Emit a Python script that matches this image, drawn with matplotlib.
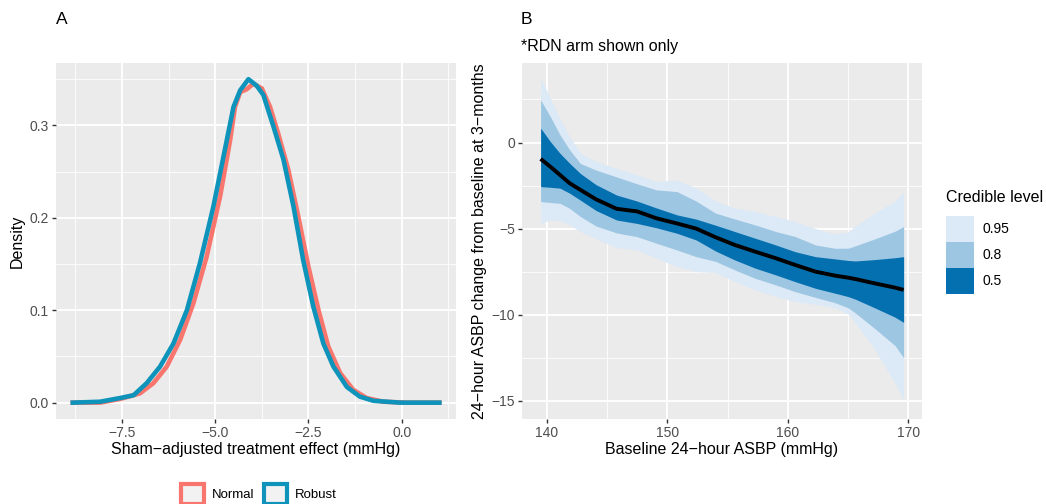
import matplotlib
matplotlib.use("Agg")
import matplotlib.pyplot as plt
from matplotlib.patches import Patch
import numpy as np

plt.rcParams['font.family'] = ['Liberation Sans', 'DejaVu Sans']

# ---------------- Panel A data (density curves) ----------------
robust_x = [-8.82, -8.09, -7.55, -7.19, -6.84, -6.48, -6.12, -5.76, -5.41, -5.05, -4.69, -4.51,
            -4.33, -4.11, -3.89, -3.71, -3.44, -3.17, -2.90, -2.64, -2.37, -2.10, -1.83, -1.47,
            -1.12, -0.76, -0.04, 1.01]
robust_y = [0.0, 0.001, 0.005, 0.008, 0.021, 0.039, 0.064, 0.100, 0.151, 0.212, 0.284, 0.320,
            0.338, 0.350, 0.343, 0.333, 0.299, 0.263, 0.212, 0.154, 0.104, 0.064, 0.039, 0.017,
            0.0065, 0.002, 0.0, 0.0]
normal_x = [-8.82, -8.09, -7.55, -7.02, -6.66, -6.30, -5.94, -5.59, -5.23, -4.87, -4.60, -4.47,
            -4.33, -4.16, -3.98, -3.75, -3.53, -3.31, -3.04, -2.77, -2.50, -2.23, -1.97, -1.65,
            -1.30, -0.94, -0.49, 0.13, 1.01]
normal_y = [0.0, 0.0, 0.004, 0.010, 0.021, 0.039, 0.068, 0.107, 0.158, 0.223, 0.284, 0.320,
            0.336, 0.339, 0.345, 0.340, 0.320, 0.291, 0.252, 0.201, 0.147, 0.100, 0.061, 0.032,
            0.014, 0.005, 0.001, 0.0, 0.0]
series_names = ["Normal", "Robust"]
series_colors = ["#F8766D", "#0E93BA"]

# ---------------- Panel B data (credible bands) ----------------
baseline = [139.5, 140.3, 141.1, 141.9, 142.8, 144.1, 145.8, 147.5, 149.1, 150.8, 152.4, 154.0,
            155.6, 157.3, 159.0, 160.6, 162.3, 163.9, 165.0, 165.6, 167.2, 168.9, 169.6]
median = [-0.95, -1.4, -1.88, -2.36, -2.75, -3.3, -3.85, -4.0, -4.4, -4.7, -5.0, -5.5,
          -5.95, -6.34, -6.72, -7.11, -7.5, -7.73, -7.85, -7.93, -8.18, -8.43, -8.56]
lo50 = [-2.56, -2.6, -2.65, -2.94, -3.35, -3.95, -4.5, -4.7, -4.95, -5.27, -5.66, -6.3,
        -6.82, -7.3, -7.69, -8.08, -8.47, -8.75, -8.95, -9.1, -9.6, -10.15, -10.45]
hi50 = [0.84, 0.06, -0.62, -1.2, -1.8, -2.45, -3.05, -3.4, -3.8, -4.2, -4.45, -4.8,
        -5.17, -5.56, -5.95, -6.34, -6.63, -6.76, -6.85, -6.88, -6.8, -6.69, -6.63]
lo80 = [-3.43, -3.48, -3.53, -3.82, -4.3, -4.85, -5.25, -5.47, -5.85, -6.24, -6.63, -6.9,
        -7.4, -7.89, -8.27, -8.66, -9.0, -9.3, -9.6, -9.9, -10.8, -11.8, -12.5]
hi80 = [2.48, 1.51, 0.45, -0.42, -1.22, -1.6, -2.0, -2.4, -2.75, -2.85, -3.4, -4.1,
        -4.44, -4.79, -5.17, -5.46, -5.95, -6.14, -6.14, -6.0, -5.6, -5.15, -4.88]
lo95 = [-4.69, -4.5, -4.53, -4.78, -5.17, -5.6, -6.1, -6.24, -6.72, -7.21, -7.5, -7.55,
        -8.08, -8.57, -8.95, -9.24, -9.4, -9.6, -9.95, -10.5, -12.0, -14.0, -14.96]
hi95 = [3.74, 2.58, 1.41, 0.35, -0.62, -1.1, -1.5, -1.88, -2.27, -2.17, -2.65, -3.4,
        -3.81, -4.01, -4.3, -4.59, -5.0, -5.3, -5.2, -4.85, -4.1, -3.4, -2.85]
level_labels = ["0.95", "0.8", "0.5"]
level_colors = ["#DCE9F6", "#9DC6E2", "#0570B0"]

W, H = 1046, 504
fig = plt.figure(figsize=(W / 100, H / 100), dpi=100)

def ax_rect(l, r, t, b):
    return [l / W, 1 - b / H, (r - l) / W, (b - t) / H]

def style(ax):
    ax.set_facecolor('#EBEBEB')
    for s in ax.spines.values():
        s.set_visible(False)
    ax.grid(True, which='major', color='white', lw=1.3)
    ax.grid(True, which='minor', color='white', lw=0.6)
    ax.set_axisbelow(True)
    ax.tick_params(which='major', length=3, width=1, color='#333333', labelsize=10,
                   labelcolor='#4D4D4D', pad=2)
    ax.tick_params(which='minor', length=0)

TITLE_FS = 11.5

# Panel A
axA = fig.add_axes(ax_rect(56, 456, 63, 419))
style(axA)
axA.plot(normal_x, normal_y, color=series_colors[0], lw=3.3, solid_joinstyle='round')
axA.plot(robust_x, robust_y, color=series_colors[1], lw=3.3, solid_joinstyle='round')
axA.set_xlim(-9.27, 1.457)
axA.set_ylim(-0.0177, 0.3675)
axA.set_xticks([-7.5, -5.0, -2.5, 0.0])
axA.set_xticklabels(["\u22127.5", "\u22125.0", "\u22122.5", "0.0"])
axA.set_xticks([-8.75, -6.25, -3.75, -1.25, 1.25], minor=True)
axA.set_yticks([0.0, 0.1, 0.2, 0.3])
axA.set_yticklabels(["0.0", "0.1", "0.2", "0.3"])
axA.set_yticks([0.05, 0.15, 0.25, 0.35], minor=True)
axA.set_xlabel("Sham\u2212adjusted treatment effect (mmHg)", fontsize=TITLE_FS)
axA.set_ylabel("Density", fontsize=TITLE_FS)
axA.xaxis.set_label_coords(0.5, -0.064)
axA.yaxis.set_label_coords(-0.0775, 0.5)
fig.text(56 / W, 1 - 20 / H, "A", fontsize=12.5, va='center', ha='left')

handlesA = [Patch(facecolor='#F2F2F2', edgecolor=c, lw=3, label=n)
            for n, c in zip(series_names, series_colors)]
fig.legend(handles=handlesA, loc='upper left', bbox_to_anchor=(181 / W, 1 - 484 / H),
           ncol=2, frameon=False, fontsize=9.5, handlelength=1.75, handleheight=2.0,
           columnspacing=0.7, handletextpad=0.6, borderaxespad=0, borderpad=0)

# Panel B
axB = fig.add_axes(ax_rect(521.7, 921.7, 63, 419))
style(axB)
axB.fill_between(baseline, lo95, hi95, color=level_colors[0], lw=0)
axB.fill_between(baseline, lo80, hi80, color=level_colors[1], lw=0)
axB.fill_between(baseline, lo50, hi50, color=level_colors[2], lw=0)
axB.plot(baseline, median, color='black', lw=2.8, solid_capstyle='butt')
axB.set_xlim(137.93, 171.1)
axB.set_ylim(-16.06, 4.62)
axB.set_xticks([140, 150, 160, 170])
axB.set_xticks([145, 155, 165], minor=True)
axB.set_yticks([0, -5, -10, -15])
axB.set_yticklabels(["0", "\u22125", "\u221210", "\u221215"])
axB.set_yticks([2.5, -2.5, -7.5, -12.5], minor=True)
axB.set_xlabel("Baseline 24\u2212hour ASBP (mmHg)", fontsize=TITLE_FS)
axB.set_ylabel("24\u2212hour ASBP change from baseline at 3\u2212months", fontsize=TITLE_FS)
axB.xaxis.set_label_coords(0.5, -0.064)
axB.yaxis.set_label_coords(-0.087, 0.5)
fig.text(521 / W, 1 - 20 / H, "B", fontsize=12.5, va='center', ha='left')
fig.text(521 / W, 1 - 46 / H, "*RDN arm shown only", fontsize=11.5, va='center', ha='left')

handlesB = [Patch(facecolor=c, edgecolor='none', label=l) for l, c in zip(level_labels, level_colors)]
legB = fig.legend(handles=handlesB, loc='upper left', bbox_to_anchor=(946 / W, 1 - 190 / H),
                  frameon=False, fontsize=10, title="Credible level", title_fontsize=11.5,
                  handlelength=2.0, handleheight=2.5, labelspacing=0, handletextpad=0.6,
                  borderaxespad=0, borderpad=0)
legB._legend_box.align = "left"
legB._legend_box.sep = 8

fig.savefig("out.png", dpi=100)
